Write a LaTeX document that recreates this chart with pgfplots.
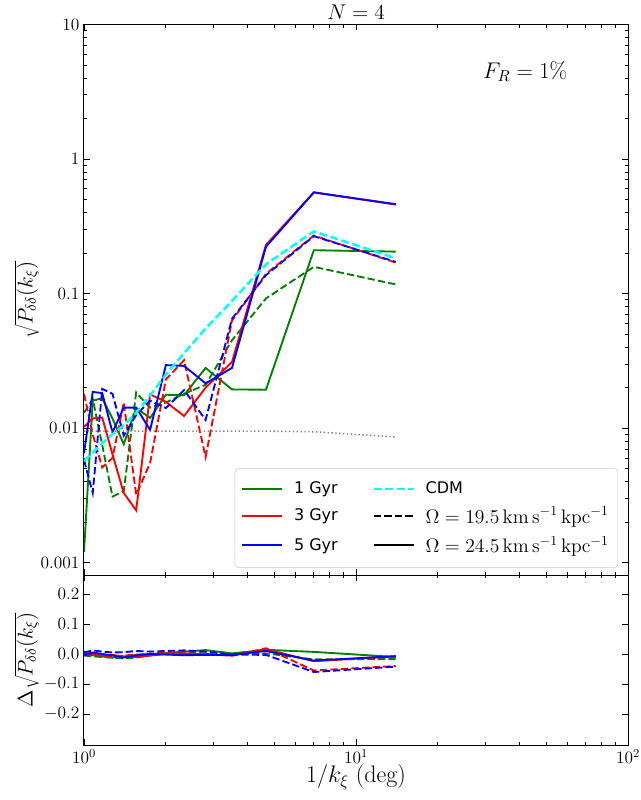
\RequirePackage{fix-cm}
\documentclass[border=0pt]{standalone}
\usepackage{fontspec}
\usepackage{pgfplots}
\pgfplotsset{compat=1.18}
\usepackage{pgfplotstable}
\newfontfamily\dejavu{DejaVu Sans}
\definecolor{mplgreen}{RGB}{0,128,0}
\definecolor{mplred}{RGB}{255,0,0}
\definecolor{mplblue}{RGB}{0,0,255}
\definecolor{mplcyan}{RGB}{0,255,255}
\definecolor{mplgray}{RGB}{128,128,128}

\pgfplotstableread{
x gs rs bs gd rd bd cdm dot
1.0000 0.0012 0.0102 0.0065 0.0130 0.0180 0.0058 0.0057 0.0095
1.0769 0.0160 0.0118 0.0186 0.0165 0.0090 0.0033 0.0066 0.0095
1.1667 0.0167 0.0120 0.0182 0.0075 0.0051 0.0196 0.0077 0.0095
1.2727 0.0118 0.0064 0.0093 0.0031 0.0060 0.0180 0.0090 0.0095
1.4000 0.0076 0.0033 0.0142 0.0034 0.0155 0.0088 0.0105 0.0095
1.5556 0.0141 0.00245 0.0142 0.0184 0.0032 0.0125 0.0130 0.0095
1.7500 0.0119 0.0178 0.0097 0.0142 0.0055 0.0160 0.0175 0.0095
2.0000 0.0177 0.0157 0.0294 0.0155 0.0230 0.0141 0.0250 0.0095
2.3333 0.0176 0.0123 0.0290 0.0180 0.0320 0.0192 0.0360 0.0095
2.8000 0.0280 0.0200 0.0215 0.0210 0.0061 0.0115 0.0550 0.0095
3.5000 0.0194 0.0310 0.0280 0.0450 0.0630 0.0650 0.0880 0.0095
4.6667 0.0193 0.2300 0.2230 0.0920 0.1400 0.1370 0.1650 0.0095
7.0000 0.2100 0.5650 0.5650 0.1580 0.2700 0.2670 0.2900 0.0094
14.000 0.2050 0.4580 0.4620 0.1170 0.1700 0.1720 0.1830 0.0086
}\topdata

\pgfplotstableread{
x gs rs bs gd rd bd
1.0000 0.000 0.008 -0.005 -0.005 0.005 0.005
1.0769 -0.004 0.000 0.005 -0.008 -0.003 0.012
1.1667 -0.008 -0.005 0.000 -0.010 -0.005 0.008
1.2727 -0.012 -0.003 -0.005 -0.012 -0.008 0.005
1.4000 -0.010 -0.008 -0.012 -0.015 -0.005 0.006
1.5556 -0.003 -0.010 -0.005 -0.012 -0.002 0.010
1.7500 0.000 -0.005 0.000 -0.005 0.000 0.008
2.0000 0.003 0.000 -0.002 0.002 0.005 0.010
2.3333 0.008 0.002 -0.004 0.005 0.002 0.012
2.8000 0.013 0.000 -0.003 0.008 0.000 0.008
3.5000 0.002 -0.005 -0.003 0.000 -0.006 -0.002
4.6667 0.014 0.016 0.010 0.002 0.019 -0.003
7.0000 0.007 -0.024 -0.022 -0.018 -0.055 -0.060
14.000 -0.010 -0.008 -0.007 -0.017 -0.040 -0.042
}\botdata

\pgfplotsset{
  myaxis/.style={
    scale only axis, width=408pt,
    xmin=1, xmax=100,
    tick align=inside, tick pos=both,
    major tick length=4.5pt, minor tick length=2.4pt,
    axis line style={line width=0.75pt},
    every tick/.style={black, line width=0.6pt},
    tick label style={font=\fontsize{13}{15}\selectfont},
  },
}
\tikzset{
  sol/.style={line width=1.4pt},
  das/.style={line width=1.4pt, dash pattern=on 5.5pt off 2.4pt},
  cdm/.style={mplcyan, line width=1.9pt, dash pattern=on 6pt off 2.6pt},
}

\begin{document}
\begin{tikzpicture}
\begin{axis}[myaxis, xmode=log, ymode=log,
  at={(0pt,0pt)}, anchor=south west, height=412.9pt,
  ymin=8.1e-4, ymax=10,
  ytick={0.001,0.01,0.1,1,10}, yticklabels={0.001,0.01,0.1,1,10},
  xticklabels={},
  title={$N=4$},
  every axis title shift=0pt,
  title style={at={(0.5,1)}, anchor=base, yshift=4pt, font=\fontsize{16}{19}\selectfont},
  ylabel={$\sqrt{P_{\delta\delta}(k_\xi)}$},
  ylabel style={at={(axis description cs:-0.105,0.5)}, anchor=center, font=\fontsize{16}{19}\selectfont},
  legend columns=2,
  legend cell align=left,
  legend image code/.code={\draw[#1] (0pt,0pt) -- (30pt,0pt);},
  legend style={at={(0.982,0.0127)}, anchor=south east, draw=black!20,
    rounded corners=3pt, fill=white, fill opacity=0.8, text opacity=1,
    font=\dejavu\fontsize{12}{14}\selectfont, row sep=4.3pt,
    inner xsep=5pt, inner ysep=8pt,
    /tikz/every even column/.append style={column sep=24pt},
    /tikz/every odd column/.append style={column sep=6pt}},
]
\addplot[mplgreen, sol, forget plot] table[x=x,y=gs]{\topdata};
\addplot[mplgreen, das, forget plot] table[x=x,y=gd]{\topdata};
\addplot[mplred, sol, forget plot] table[x=x,y=rs]{\topdata};
\addplot[mplred, das, forget plot] table[x=x,y=rd]{\topdata};
\addplot[mplblue, sol, forget plot] table[x=x,y=bs]{\topdata};
\addplot[mplblue, das, forget plot] table[x=x,y=bd]{\topdata};
\addplot[cdm, forget plot] table[x=x,y=cdm]{\topdata};
\addplot[mplgray, line width=1.2pt, dash pattern=on 1pt off 1.9pt, forget plot] table[x=x,y=dot]{\topdata};
\addlegendimage{mplgreen, sol}
\addlegendentry{1 Gyr}
\addlegendimage{cdm}
\addlegendentry{CDM}
\addlegendimage{mplred, sol}
\addlegendentry{3 Gyr}
\addlegendimage{black, das}
\addlegendentry{\fontsize{14.7}{16}\selectfont$\Omega=19.5\,\mathrm{km\,s^{-1}\,kpc^{-1}}$}
\addlegendimage{mplblue, sol}
\addlegendentry{5 Gyr}
\addlegendimage{black, sol}
\addlegendentry{\fontsize{14.7}{16}\selectfont$\Omega=24.5\,\mathrm{km\,s^{-1}\,kpc^{-1}}$}
\node[font=\fontsize{17}{20}\selectfont] at (rel axis cs:0.811,0.914) {$F_R=1\%$};
\end{axis}
\begin{axis}[myaxis, xmode=log,
  at={(0pt,0pt)}, anchor=north west, height=127.5pt,
  ymin=-0.303, ymax=0.263,
  ytick={-0.2,-0.1,0,0.1,0.2},
  yticklabels={$-0.2$,$-0.1$,$0.0$,$0.1$,$0.2$},
  xtick={1,10,100},
  xlabel={$1/k_\xi\;(\mathrm{deg})$},
  xlabel style={at={(axis description cs:0.5,-0.19)}, anchor=center, font=\fontsize{18}{21}\selectfont},
  ylabel={$\Delta\sqrt{P_{\delta\delta}(k_\xi)}$},
  ylabel style={at={(axis description cs:-0.105,0.5)}, anchor=center, font=\fontsize{16}{19}\selectfont},
]
\addplot[mplgreen, sol] table[x=x,y=gs]{\botdata};
\addplot[mplgreen, das] table[x=x,y=gd]{\botdata};
\addplot[mplred, sol] table[x=x,y=rs]{\botdata};
\addplot[mplred, das] table[x=x,y=rd]{\botdata};
\addplot[mplblue, sol] table[x=x,y=bs]{\botdata};
\addplot[mplblue, das] table[x=x,y=bd]{\botdata};
\end{axis}
\pgfresetboundingbox
\path[use as bounding box] (-63pt,-168.75pt) rectangle (417.75pt,431.25pt);
\end{tikzpicture}
\end{document}
